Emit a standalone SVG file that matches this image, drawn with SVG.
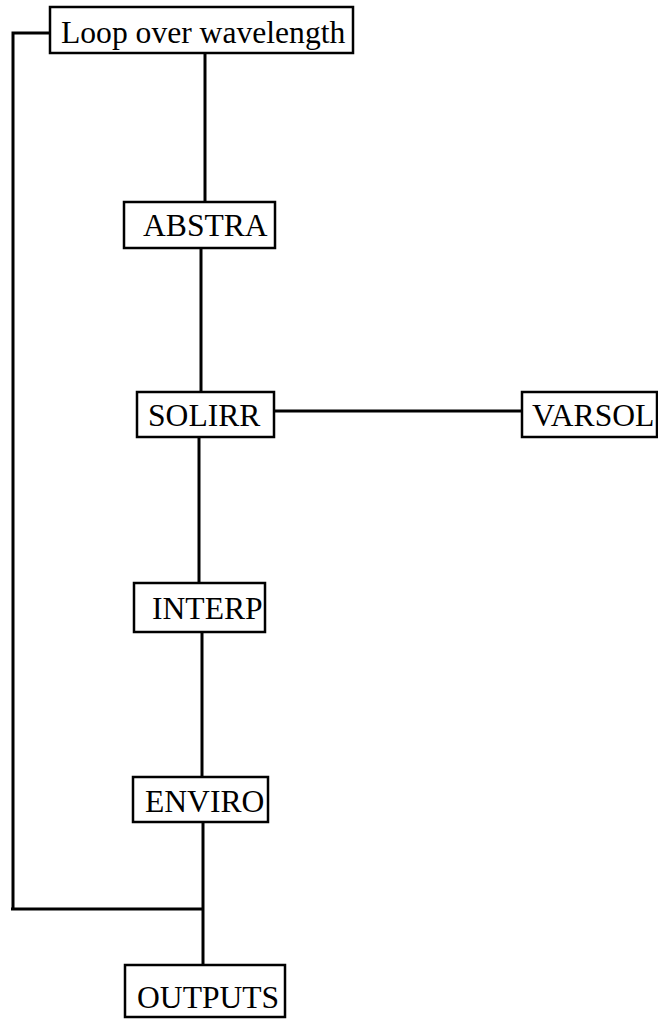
<svg xmlns="http://www.w3.org/2000/svg" width="658" height="1021" viewBox="0 0 658 1021">
<style>
.box{fill:#fff;stroke:#000;stroke-width:2.5}
.lbl{font-family:"Liberation Serif","Times New Roman",serif;font-size:31.6px;fill:#000}
.con{fill:none;stroke:#000;stroke-width:3}
</style>
<rect width="658" height="1021" fill="#fff"/>
<g id="connectors">
<polyline class="con" points="50,33 13,33 13,909"/>
<line class="con" x1="11" y1="909" x2="204" y2="909"/>
<line class="con" x1="205" y1="53" x2="205" y2="202"/>
<line class="con" x1="201" y1="248" x2="201" y2="392"/>
<line class="con" x1="199" y1="437" x2="199" y2="583"/>
<line class="con" x1="202" y1="632" x2="202" y2="777"/>
<line class="con" x1="203" y1="822" x2="203" y2="965"/>
<line class="con" x1="274" y1="411" x2="522" y2="411"/>
</g>
<g id="loop">
<rect class="box" x="50" y="7" width="303" height="46"/>
<text class="lbl" x="61" y="43">Loop over wavelength</text>
</g>
<g id="abstra">
<rect class="box" x="124" y="202" width="151" height="46"/>
<text class="lbl" x="143" y="236">ABSTRA</text>
</g>
<g id="solirr">
<rect class="box" x="137" y="392" width="137" height="45"/>
<text class="lbl" x="148" y="426">SOLIRR</text>
</g>
<g id="varsol">
<rect class="box" x="522" y="392" width="135" height="45"/>
<text class="lbl" x="532" y="426">VARSOL</text>
</g>
<g id="interp">
<rect class="box" x="134" y="583" width="131" height="49"/>
<text class="lbl" x="152" y="619">INTERP</text>
</g>
<g id="enviro">
<rect class="box" x="133" y="777" width="135" height="45"/>
<text class="lbl" x="145" y="812">ENVIRO</text>
</g>
<g id="outputs">
<rect class="box" x="125" y="965" width="160" height="52"/>
<text class="lbl" x="137" y="1008">OUTPUTS</text>
</g>
</svg>
